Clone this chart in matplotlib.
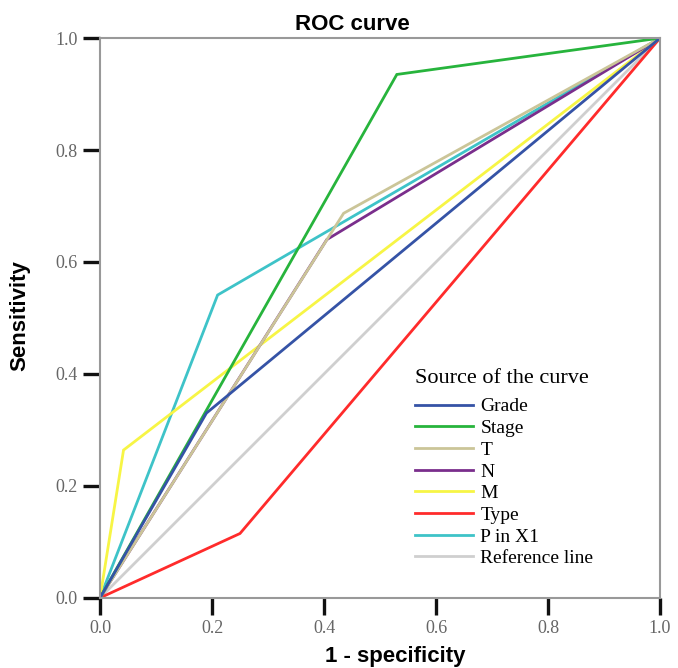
import matplotlib
matplotlib.use("Agg")
import matplotlib.pyplot as plt

# curve data: (1 - specificity, sensitivity)
grade_x = [0.0, 0.19, 1.0]
grade_y = [0.0, 0.33, 1.0]
stage_x = [0.0, 0.53, 1.0]
stage_y = [0.0, 0.935, 1.0]
t_x = [0.0, 0.435, 1.0]
t_y = [0.0, 0.687, 1.0]
n_x = [0.0, 0.405, 1.0]
n_y = [0.0, 0.64, 1.0]
m_x = [0.0, 0.042, 1.0]
m_y = [0.0, 0.264, 1.0]
type_x = [0.0, 0.25, 1.0]
type_y = [0.0, 0.115, 1.0]
pin_x = [0.0, 0.21, 1.0]
pin_y = [0.0, 0.541, 1.0]
ref_x = [0.0, 1.0]
ref_y = [0.0, 1.0]

ticks = [0.0, 0.2, 0.4, 0.6, 0.8, 1.0]

curves = [
    ("Grade", grade_x, grade_y, "#3553a6"),
    ("Stage", stage_x, stage_y, "#27b43c"),
    ("T", t_x, t_y, "#cbc598"),
    ("N", n_x, n_y, "#7a2e8c"),
    ("M", m_x, m_y, "#f7f545"),
    ("Type", type_x, type_y, "#ff2b2b"),
    ("P in X1", pin_x, pin_y, "#3ec3c8"),
    ("Reference line", ref_x, ref_y, "#cfcfcf"),
]

fig = plt.figure(figsize=(6.78, 6.68), dpi=100)
ax = fig.add_axes([0.1475, 0.105, 0.826, 0.838])

# draw the reference line first so it sits under the others
for name, xs, ys, col in curves[::-1]:
    ax.plot(xs, ys, color=col, lw=2, label=name, solid_joinstyle="miter")

ax.set_xlim(0, 1)
ax.set_ylim(0, 1)
ax.set_xticks(ticks)
ax.set_yticks(ticks)
ax.set_xticklabels([f"{t:.1f}" for t in ticks], family="Liberation Serif",
                   fontsize=13, color="#666666")
ax.set_yticklabels([f"{t:.1f}" for t in ticks], family="Liberation Serif",
                   fontsize=13, color="#666666")
ax.tick_params(direction="out", length=12, width=2.4, color="#111111", pad=4)
for s in ax.spines.values():
    s.set_color("#999999")
    s.set_linewidth(1.5)

fig.text(0.519, 0.955, "ROC curve", family="Liberation Sans",
         fontweight="bold", fontsize=16, ha="center", va="baseline")
fig.text(0.583, 0.009, "1 - specificity", family="Liberation Sans",
         fontweight="bold", fontsize=16, ha="center", va="baseline")
fig.text(0.0295, 0.528, "Sensitivity", family="Liberation Sans",
         fontweight="bold", fontsize=16, ha="center", va="center",
         rotation=90)

handles, labels = ax.get_legend_handles_labels()
leg = ax.legend(handles[::-1], labels[::-1], title="Source of the curve",
                loc="upper left", bbox_to_anchor=(0.598, 0.462),
                bbox_transform=fig.transFigure, frameon=False,
                prop={"family": "Liberation Serif", "size": 14},
                handlelength=3.0, handletextpad=0.35, labelspacing=0.21,
                borderpad=0.0)
leg.get_title().set_fontfamily("Liberation Serif")
leg.get_title().set_fontsize(16)
leg._legend_box.align = "left"
leg._legend_box.sep = 7  # extra gap under the title

fig.savefig("out.png", dpi=100)
